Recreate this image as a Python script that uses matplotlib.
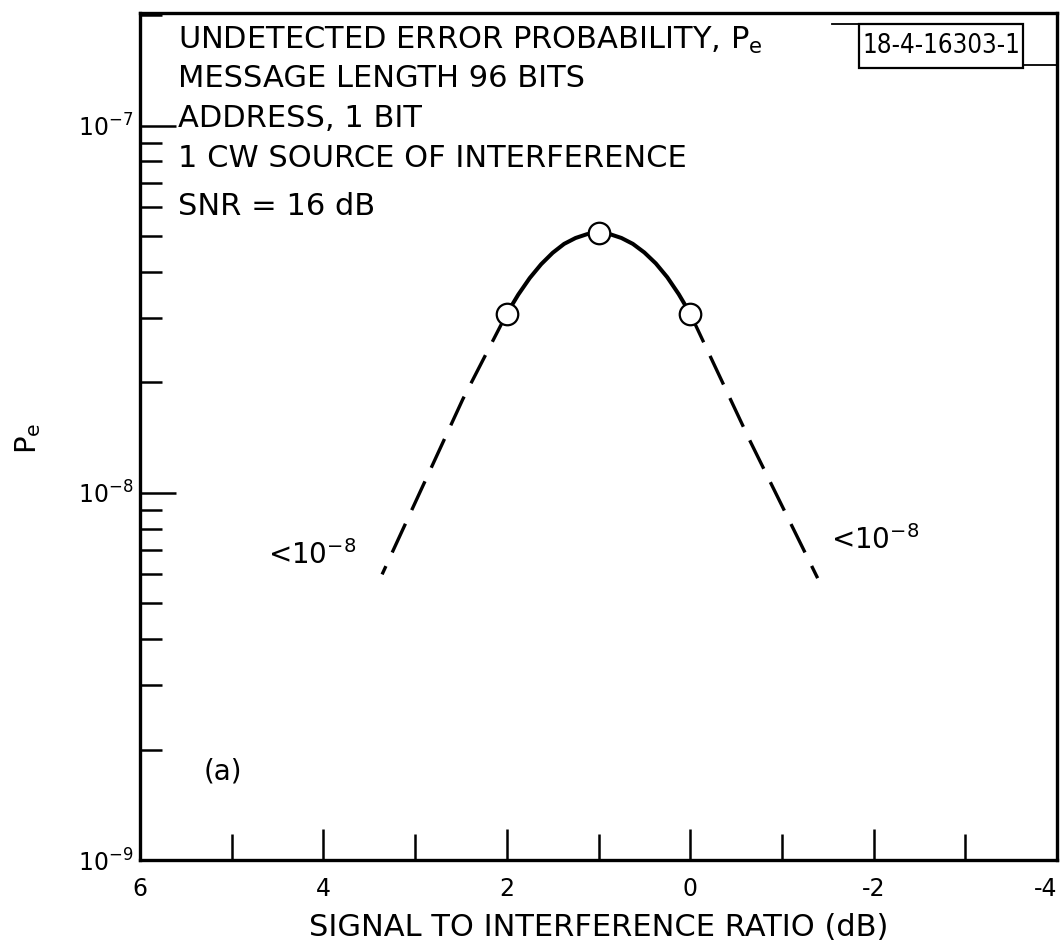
import matplotlib
matplotlib.use("Agg")
import matplotlib.pyplot as plt
from matplotlib import font_manager
from matplotlib.patches import Rectangle
from matplotlib.ticker import LogLocator, FixedLocator, NullFormatter

plt.rcParams["axes.unicode_minus"] = False

# measured points (circles)
sir_pts = [2.0, 1.0, 0.0]
pe_pts = [3.08e-8, 5.1e-8, 3.08e-8]

sir_curve = [2.0, 1.875, 1.75, 1.625, 1.5, 1.375, 1.25, 1.125, 1.0,
             0.875, 0.75, 0.625, 0.5, 0.375, 0.25, 0.125, 0.0]
pe_curve = [3.08e-8, 3.47e-8, 3.85e-8, 4.20e-8, 4.51e-8, 4.77e-8, 4.95e-8, 5.07e-8, 5.1e-8,
            5.07e-8, 4.95e-8, 4.77e-8, 4.52e-8, 4.22e-8, 3.87e-8, 3.48e-8, 3.08e-8]

# dashed extrapolations towards < 1e-8
sir_left = [2.0, 2.48, 3.36]
pe_left = [3.08e-8, 1.8e-8, 6.0e-9]
sir_right = [0.0, -0.65, -1.39]
pe_right = [3.08e-8, 1.39e-8, 5.86e-9]

x_major = [6, 4, 2, 0, -2, -4]
x_minor = [5, 3, 1, -1, -3]

info_lines = [
    "UNDETECTED ERROR PROBABILITY, P$_\\mathregular{e}$",
    "MESSAGE LENGTH 96 BITS",
    "ADDRESS, 1 BIT",
    "1 CW SOURCE OF INTERFERENCE",
    "SNR = 16 dB",
]
info_y = [0.968, 0.923, 0.875, 0.828, 0.772]

# narrow font for the drawing number, if there is one
try:
    font_manager.findfont("Liberation Sans Narrow", fallback_to_default=False)
    id_font = dict(family="Liberation Sans Narrow", fontsize=21)
except ValueError:
    id_font = dict(family="DejaVu Sans", fontstretch="condensed", fontsize=18.5)

fig = plt.figure(figsize=(10.64, 9.5), dpi=100)
ax = fig.add_axes([0.1316, 0.0947, 0.8618, 0.8916])
ax.set_yscale("log")
ax.set_xlim(6, -4)
ax.set_ylim(1e-9, 2.03e-7)

for s in ax.spines.values():
    s.set_linewidth(2.4)

ax.plot(sir_curve, pe_curve, color="black", lw=2.9, solid_capstyle="round",
        solid_joinstyle="round", zorder=2)
ax.plot(sir_left, pe_left, color="black", lw=2.4, dashes=(9.5, 4.5), zorder=2)
ax.plot(sir_right, pe_right, color="black", lw=2.4, dashes=(9.5, 4.5), zorder=2)
ax.plot(sir_pts, pe_pts, "o", ms=15.5, mfc="white", mec="black", mew=1.6, zorder=3)

# ticks
ax.xaxis.set_major_locator(FixedLocator(x_major))
ax.xaxis.set_minor_locator(FixedLocator(x_minor))
ax.tick_params(axis="x", which="major", direction="in", length=22, width=1.8,
               labelsize=17, pad=12, top=False)
ax.tick_params(axis="x", which="minor", direction="in", length=19, width=1.8, top=False)
ax.yaxis.set_major_locator(LogLocator(base=10, numticks=10))
ax.yaxis.set_minor_locator(LogLocator(base=10, subs=range(2, 10), numticks=20))
ax.yaxis.set_minor_formatter(NullFormatter())
ax.tick_params(axis="y", which="major", direction="in", length=26, width=1.8,
               labelsize=17, pad=5, right=False)
ax.tick_params(axis="y", which="minor", direction="in", length=15.5, width=1.8, right=False)
fig.canvas.draw()
xt = ax.get_xticklabels()
xt[-1].set_horizontalalignment("right")

ax.set_xlabel("SIGNAL TO INTERFERENCE RATIO (dB)", fontsize=22, labelpad=9)
fig.text(0.0263, 0.539, "P$_\\mathregular{e}$", rotation=90, fontsize=21,
         ha="center", va="center")

for y, t in zip(info_y, info_lines):
    ax.text(0.0414, y, t, transform=ax.transAxes, fontsize=22, ha="left", va="center")

ax.text(0.1876, 0.360, "<10$^{-8}$", transform=ax.transAxes, fontsize=20,
        ha="center", va="center")
ax.text(0.8015, 0.378, "<10$^{-8}$", transform=ax.transAxes, fontsize=20,
        ha="center", va="center")
ax.text(0.0905, 0.104, "(a)", transform=ax.transAxes, fontsize=20, ha="center", va="center")

# drawing number box
ax.add_patch(Rectangle((0.784, 0.935), 0.179, 0.052, transform=ax.transAxes,
                       fc="white", ec="black", lw=1.6, clip_on=False, zorder=4))
ax.text(0.8735, 0.961, "18-4-16303-1", transform=ax.transAxes, ha="center",
        va="center", zorder=5, **id_font)
ax.plot([0.7546, 0.784], [0.987, 0.987], color="black", lw=1.3, transform=ax.transAxes,
        clip_on=False)
ax.plot([0.963, 1.0], [0.939, 0.939], color="black", lw=1.3, transform=ax.transAxes,
        clip_on=False)

fig.savefig("out.png", dpi=100, facecolor="white")
